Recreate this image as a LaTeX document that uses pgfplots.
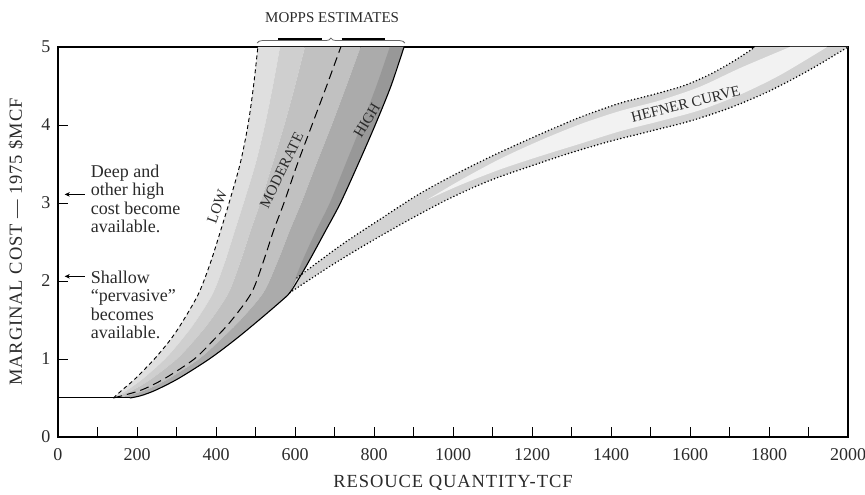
\documentclass[border=0pt]{standalone}
\usepackage{fontspec}
\setmainfont{Liberation Serif}
\usepackage{pgfplots}
\pgfplotsset{compat=1.18}
\usepgfplotslibrary{fillbetween}
\usetikzlibrary{decorations.pathreplacing,arrows.meta}
\definecolor{bandA}{HTML}{DFDFDF}
\definecolor{bandB}{HTML}{CFCFCF}
\definecolor{bandC}{HTML}{C1C1C1}
\definecolor{bandD}{HTML}{ABABAB}
\definecolor{bandE}{HTML}{989898}
\definecolor{hefA}{HTML}{D3D3D3}
\definecolor{hefB}{HTML}{F2F2F2}
\definecolor{txt}{HTML}{2A2A2A}
\begin{document}
\begin{tikzpicture}
\begin{axis}[
  scale only axis, width=790pt, height=390pt,
  xmin=0, xmax=2000, ymin=0, ymax=5,
  xtick={0,200,...,2000}, minor xtick={100,300,...,1900},
  ytick={0,1,2,3,4,5},
  tick pos=left, tick align=inside,
  major tick length=10pt, minor tick length=10pt,
  axis line style={line width=1.1pt, black},
  tick style={line width=0.9pt, black},
  tick label style={font=\fontsize{18}{20}\selectfont, text=txt},
  xticklabel style={yshift=-8pt},
  yticklabel style={xshift=-4pt},
  /pgf/number format/assume math mode=true,
  /pgf/number format/1000 sep={},
  xlabel={RESOUCE QUANTITY-TCF},
  ylabel={MARGINAL COST — 1975 \$MCF},
  every axis x label/.style={at={(axis description cs:0.5,-0.118)}, anchor=center, font=\fontsize{18.5}{20}\selectfont\addfontfeatures{LetterSpace=5}, text=txt},
  every axis y label/.style={at={(axis description cs:-0.0532,0.5)}, rotate=90, anchor=center, font=\fontsize{18.5}{20}\selectfont\addfontfeatures{LetterSpace=5}, text=txt},
  clip mode=individual,
]
% ---- MOPPS curves (paths) ----
\addplot[draw=none, smooth, name path=L, forget plot] coordinates {(140,0.5)(162,0.6)(196,0.75)(244,1.0)(285,1.25)(318,1.5)(357,1.85)(387,2.25)(412,2.65)(433,3.0)(461,3.5)(481,4.0)(495,4.5)(506,5.0)};
\addplot[draw=none, smooth, name path=B1, forget plot] coordinates {(140,0.5)(175,0.6)(216,0.75)(271,1.0)(314,1.25)(351,1.5)(393,1.85)(423,2.25)(448,2.65)(470,3.0)(500,3.5)(524,4.0)(544,4.5)(562,5.0)};
\addplot[draw=none, smooth, name path=B2, forget plot] coordinates {(140,0.5)(189,0.6)(238,0.75)(301,1.0)(347,1.25)(387,1.5)(432,1.85)(462,2.25)(488,2.65)(512,3.0)(543,3.5)(573,4.0)(600,4.5)(625,5.0)};
\addplot[draw=none, smooth, name path=M, forget plot] coordinates {(140,0.5)(210,0.6)(270,0.75)(345,1.0)(395,1.25)(440,1.5)(490,1.85)(520,2.25)(546,2.65)(572,3.0)(606,3.5)(643,4.0)(680,4.5)(716,5.0)};
\addplot[draw=none, smooth, name path=B3, forget plot] coordinates {(153,0.5)(221,0.6)(281,0.75)(357,1.0)(412,1.25)(462,1.5)(520,1.85)(556,2.25)(587,2.65)(616,3.0)(654,3.5)(693,4.0)(730,4.5)(766,5.0)};
\addplot[draw=none, smooth, name path=H, forget plot] coordinates {(182,0.5)(210,0.53)(247,0.6)(305,0.75)(383,1.0)(449,1.25)(509,1.5)(562,1.73)(587,1.85)(612,2.05)(635,2.25)(678,2.65)(715,3.0)(760,3.5)(803,4.0)(843,4.5)(876,5.0)};
\addplot[draw=none, smooth, name path=B4, forget plot] coordinates {(587,1.85)(618,2.25)(654,2.65)(688,3.0)(728,3.5)(768,4.0)(806,4.5)(840,5.0)};
\addplot[draw=none, smooth, name path=HU, forget plot] coordinates {(587,1.85)(612,2.05)(635,2.25)(678,2.65)(715,3.0)(760,3.5)(803,4.0)(843,4.5)(876,5.0)};
% ---- Hefner paths ----
\addplot[draw=none, smooth, name path=FU, forget plot] coordinates {(605,2.04)(714,2.45)(815,2.79)(916,3.12)(1018,3.40)(1119,3.65)(1220,3.88)(1322,4.10)(1423,4.28)(1499,4.38)(1582,4.5)(1651,4.65)(1714,4.83)(1765,5.0)};
\addplot[draw=none, smooth, name path=FL, forget plot] coordinates {(587,1.85)(689,2.19)(790,2.5)(891,2.79)(992,3.06)(1094,3.29)(1195,3.47)(1296,3.64)(1397,3.79)(1499,3.92)(1600,4.05)(1701,4.22)(1803,4.44)(1904,4.71)(2000,5.0)};
\addplot[draw=none, smooth, name path=SU, forget plot] coordinates {(934,3.04)(1018,3.29)(1119,3.565)(1220,3.80)(1322,4.01)(1423,4.18)(1524,4.315)(1625,4.49)(1727,4.73)(1853,5.0)};
\addplot[draw=none, smooth, name path=SL, forget plot] coordinates {(934,3.04)(1018,3.23)(1119,3.43)(1220,3.60)(1322,3.76)(1423,3.92)(1524,4.05)(1625,4.19)(1727,4.39)(1828,4.64)(1947,5.0)};
% ---- fills ----
\addplot[bandA, draw=none] fill between[of=L and B1];
\addplot[bandB, draw=none] fill between[of=B1 and B2];
\addplot[bandC, draw=none] fill between[of=B2 and B3];
\addplot[bandD, draw=none] fill between[of=B3 and H];
\addplot[bandE, draw=none] fill between[of=B4 and HU];
\addplot[hefA, draw=none] fill between[of=FU and FL];
\addplot[hefB, draw=none] fill between[of=SU and SL];
% ---- visible lines ----
\addplot[black, line width=1pt] coordinates {(0,0.5)(182,0.5)};
\addplot[black, smooth, line width=0.9pt, dash pattern=on 4pt off 3pt] coordinates {(140,0.5)(162,0.6)(196,0.75)(244,1.0)(285,1.25)(318,1.5)(357,1.85)(387,2.25)(412,2.65)(433,3.0)(461,3.5)(481,4.0)(495,4.5)(506,5.0)};
\addplot[black, smooth, line width=1pt, dash pattern=on 9pt off 5pt] coordinates {(140,0.5)(210,0.6)(270,0.75)(345,1.0)(395,1.25)(440,1.5)(490,1.85)(520,2.25)(546,2.65)(572,3.0)(606,3.5)(643,4.0)(680,4.5)(716,5.0)};
\addplot[black, smooth, line width=1.1pt] coordinates {(182,0.5)(210,0.53)(247,0.6)(305,0.75)(383,1.0)(449,1.25)(509,1.5)(562,1.73)(587,1.85)(612,2.05)(635,2.25)(678,2.65)(715,3.0)(760,3.5)(803,4.0)(843,4.5)(876,5.0)};
\addplot[black, smooth, line width=1.7pt, line cap=round, dash pattern=on 0pt off 3.4pt] coordinates {(605,2.04)(714,2.45)(815,2.79)(916,3.12)(1018,3.40)(1119,3.65)(1220,3.88)(1322,4.10)(1423,4.28)(1499,4.38)(1582,4.5)(1651,4.65)(1714,4.83)(1765,5.0)};
\addplot[black, smooth, line width=1.7pt, line cap=round, dash pattern=on 0pt off 3.4pt] coordinates {(587,1.85)(689,2.19)(790,2.5)(891,2.79)(992,3.06)(1094,3.29)(1195,3.47)(1296,3.64)(1397,3.79)(1499,3.92)(1600,4.05)(1701,4.22)(1803,4.44)(1904,4.71)(2000,5.0)};
% ---- labels ----
\node[rotate=70, font=\fontsize{15}{17}\selectfont, text=txt] at (axis cs:403,2.95) {LOW};
\node[rotate=64, font=\fontsize{15}{17}\selectfont, text=txt] at (axis cs:566,3.42) {MODERATE};
\node[rotate=59, font=\fontsize{15}{17}\selectfont, text=txt] at (axis cs:782,4.06) {HIGH};
\node[rotate=14, font=\fontsize{15}{17}\selectfont, text=txt] at (axis cs:1589,4.27) {HEFNER CURVE};
\node[font=\fontsize{15}{17}\selectfont, text=txt] at (axis cs:694,5.38) {MOPPS ESTIMATES};
\draw[decorate, decoration={brace, amplitude=5pt}, line width=0.8pt, black!60] (axis cs:504,5.05) -- (axis cs:878,5.05);
\draw[line width=1.6pt, black] (axis cs:558,5.103) -- (axis cs:668,5.103);
\draw[line width=1.6pt, black] (axis cs:718,5.103) -- (axis cs:828,5.103);
\node[anchor=north west, align=left, inner sep=0pt, font=\fontsize{18}{18.3}\selectfont, text=txt] at (axis cs:83,3.49) {Deep and\\other high\\cost become\\available.};
\node[anchor=north west, align=left, inner sep=0pt, font=\fontsize{18}{18.3}\selectfont, text=txt] at (axis cs:83,2.13) {Shallow\\“pervasive”\\becomes\\available.};
\draw[-{Stealth[length=5pt,width=4.5pt,inset=1.5pt]}, line width=0.7pt] (axis cs:68,3.11) -- (axis cs:17,3.11);
\draw[-{Stealth[length=5pt,width=4.5pt,inset=1.5pt]}, line width=0.7pt] (axis cs:68,2.06) -- (axis cs:17,2.06);
\end{axis}
\pgfresetboundingbox
\path[use as bounding box] (-58pt,-58pt) rectangle (807pt,437pt);
\end{tikzpicture}
\end{document}
